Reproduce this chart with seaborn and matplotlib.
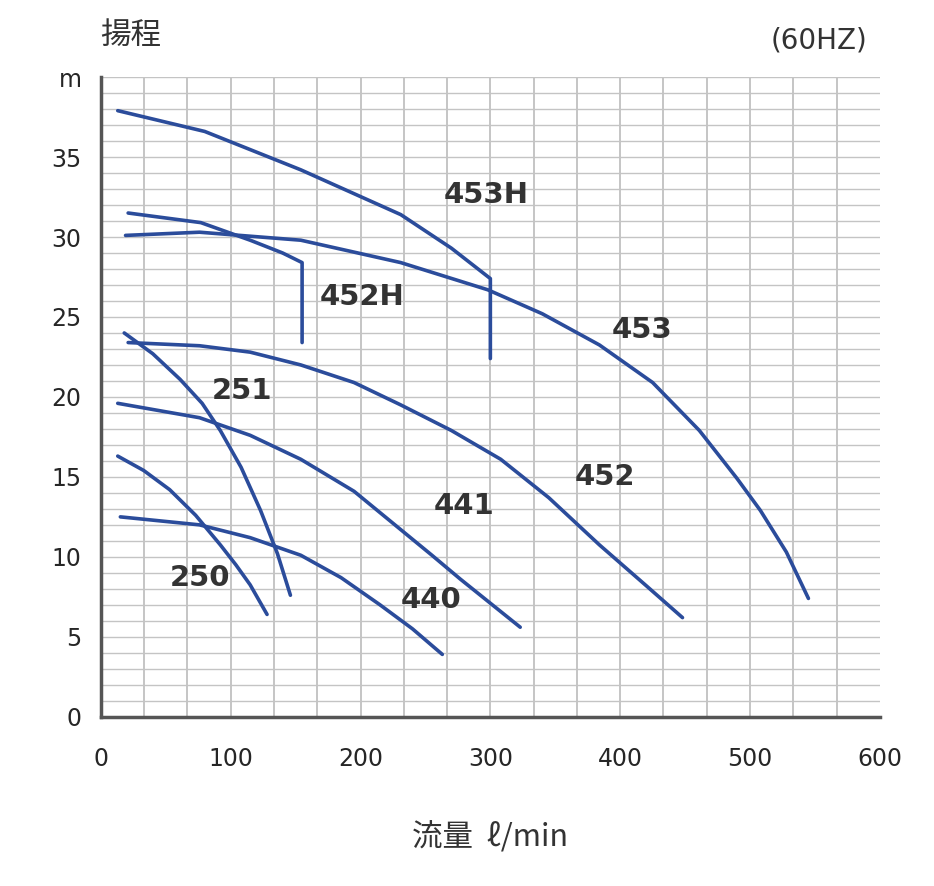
import numpy as np
import matplotlib.pyplot as plt
import pandas as pd
import seaborn as sns

# pump head curves (flow l/min, head m)
curves = {
    "453H": ([13, 80, 154, 231, 270, 300, 300], [37.9, 36.6, 34.2, 31.4, 29.3, 27.4, 22.4]),
    "452H": ([21, 77, 115, 140, 155, 155], [31.5, 30.9, 29.8, 29.0, 28.4, 23.4]),
    "453": ([19, 76, 154, 231, 298, 340, 384, 425, 461, 490, 508, 528, 545],
            [30.1, 30.3, 29.8, 28.4, 26.7, 25.2, 23.25, 20.9, 17.9, 14.9, 12.9, 10.3, 7.4]),
    "452": ([21, 76, 115, 154, 195, 231, 270, 308, 345, 384, 420, 448],
            [23.4, 23.2, 22.8, 22.0, 20.9, 19.5, 17.9, 16.1, 13.7, 10.75, 8.2, 6.2]),
    "251": ([18, 40, 61, 78, 92, 108, 123, 136, 146], [24.0, 22.7, 21.1, 19.6, 17.9, 15.6, 12.9, 10.2, 7.6]),
    "441": ([13, 76, 115, 154, 195, 231, 255, 277, 300, 323],
            [19.6, 18.7, 17.6, 16.1, 14.1, 11.7, 10.1, 8.6, 7.1, 5.6]),
    "250": ([13, 33, 53, 73, 92, 104, 115, 128], [16.3, 15.4, 14.2, 12.6, 10.75, 9.5, 8.25, 6.4]),
    "440": ([15, 76, 115, 154, 185, 215, 240, 263], [12.5, 12.0, 11.2, 10.1, 8.7, 7.0, 5.5, 3.9]),
}
label_pos = {
    "453H": (297, 32.6), "452H": (201, 26.25), "453": (417, 24.2), "251": (109, 20.4),
    "452": (388, 15.0), "441": (280, 13.2), "250": (76, 8.7), "440": (254, 7.3),
}
xticks = [0, 100, 200, 300, 400, 500, 600]
yticks = [0, 5, 10, 15, 20, 25, 30, 35, 40]
ytick_labels = ["0", "5", "10", "15", "20", "25", "30", "35", "m"]

rows = []
for name, (xs, ys) in curves.items():
    for i, (x, y) in enumerate(zip(xs, ys)):
        rows.append({"model": name, "flow": x, "head": y, "order": i})
df = pd.DataFrame(rows)

sns.set_style("white")
plt.rcParams['font.family'] = ['Noto Sans CJK JP', 'DejaVu Sans']

fig = plt.figure(figsize=(9.34, 8.86), dpi=100)
ax = fig.add_axes([0.108, 0.191, 0.834, 0.722])

# grid
for v in np.arange(100 / 3, 600, 100 / 3):
    ax.axvline(v, color="#bbbbbb", lw=1.2, zorder=0)
for h in range(1, 41):
    ax.axhline(h, color="#c4c4c4", lw=1.0, zorder=0)

blue = "#2b4c9b"
for name in curves:
    sub = df[df.model == name]
    sns.lineplot(data=sub, x="flow", y="head", sort=False, color=blue, lw=2.6, ax=ax,
                 estimator=None)
    lx, ly = label_pos[name]
    ax.text(lx, ly, name, fontsize=21, fontweight="bold", color="#333333",
            ha="center", va="center", family="DejaVu Sans")

ax.set_xlim(0, 600)
ax.set_ylim(0, 40)
ax.set_xticks(xticks)
ax.set_yticks(yticks)
ax.set_xticklabels([str(t) for t in xticks], fontsize=17, family="DejaVu Sans")
ax.set_yticklabels(ytick_labels, fontsize=17, family="DejaVu Sans")
ax.tick_params(axis="x", length=8, width=1.5, color="#555555", pad=14)
ax.tick_params(axis="y", length=0, pad=14)
ax.set_xlabel("")
ax.set_ylabel("")
for s in ["top", "right"]:
    ax.spines[s].set_visible(False)
for s in ["left", "bottom"]:
    ax.spines[s].set_color("#555555")
    ax.spines[s].set_linewidth(2.5)

fig.text(0.14, 0.96, "揚程", fontsize=22, ha="center", va="center", color="#333333")
fig.text(0.877, 0.954, "(60HZ)", fontsize=20, ha="center", va="center", color="#333333",
         family="DejaVu Sans")
fig.text(0.525, 0.054, "流量  ℓ/min", fontsize=22, ha="center", va="center", color="#333333")

fig.savefig("out.png", dpi=100)
